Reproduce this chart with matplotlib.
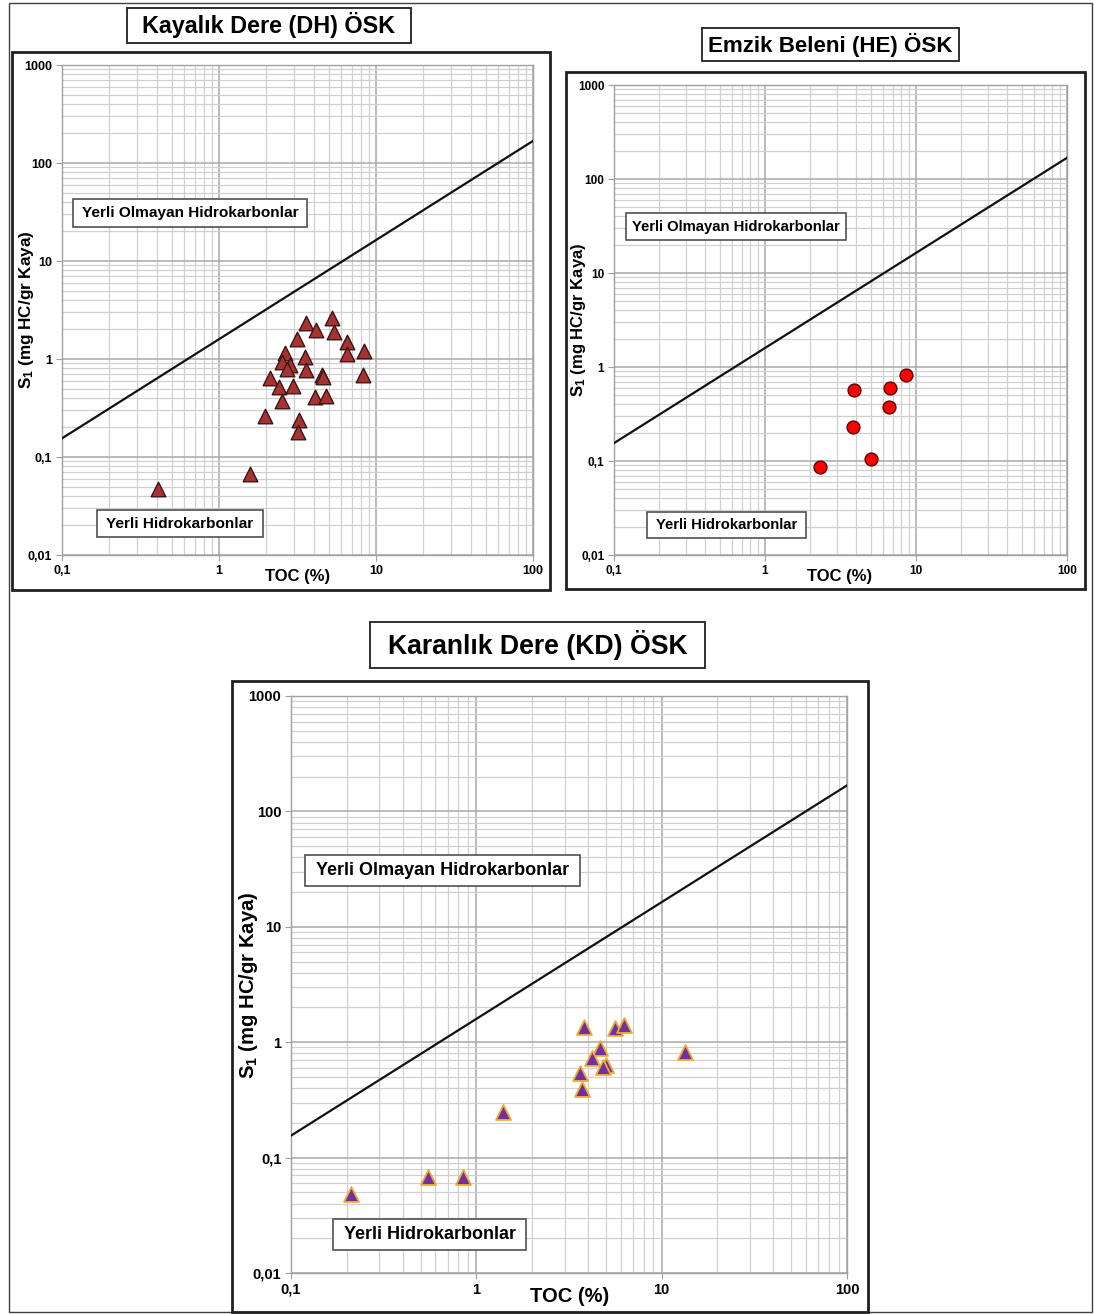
import matplotlib
matplotlib.use("Agg")
import matplotlib.pyplot as plt
from matplotlib.patches import Rectangle
from matplotlib.ticker import LogLocator, FixedLocator, FixedFormatter, NullFormatter
import numpy as np

plt.rcParams['font.family'] = ['Liberation Sans', 'DejaVu Sans']
plt.rcParams['mathtext.fontset'] = 'custom'
plt.rcParams['mathtext.rm'] = 'Liberation Sans:bold'
plt.rcParams['mathtext.it'] = 'Liberation Sans:bold'
plt.rcParams['mathtext.bf'] = 'Liberation Sans:bold'

# ---------------- data ----------------
dh_toc = [3.58, 5.22, 4.15, 5.40, 3.13, 6.54, 8.39, 6.54, 2.63, 3.53, 2.51, 2.83, 2.70, 3.58,
          4.51, 4.58, 2.11, 8.26, 2.41, 2.96, 2.51, 4.09, 4.80, 1.96, 3.23, 3.17, 0.41, 1.57]
dh_s1 = [2.33, 2.62, 1.98, 1.89, 1.60, 1.49, 1.21, 1.12, 1.15, 1.05, 0.93, 0.87, 0.79, 0.77,
         0.69, 0.66, 0.64, 0.69, 0.52, 0.53, 0.37, 0.41, 0.42, 0.26, 0.24, 0.18, 0.047, 0.067]

he_toc = [8.59, 3.87, 6.73, 6.62, 3.81, 5.06, 2.30]
he_s1 = [0.82, 0.57, 0.60, 0.38, 0.23, 0.105, 0.086]

kd_toc = [3.83, 5.61, 6.27, 13.4, 4.65, 4.23, 5.01, 4.81, 3.64, 3.73, 1.40, 0.55, 0.85, 0.21]
kd_s1 = [1.36, 1.32, 1.41, 0.83, 0.89, 0.73, 0.63, 0.61, 0.54, 0.39, 0.25, 0.068, 0.068, 0.048]

boundary_toc = [0.1, 100]
boundary_s1 = [0.155, 168]

x_ticks = [0.1, 1, 10, 100]
x_labels = ['0,1', '1', '10', '100']
y_ticks = [0.01, 0.1, 1, 10, 100, 1000]
y_labels = ['0,01', '0,1', '1', '10', '100', '1000']

titles = ['Kayalık Dere (DH) ÖSK', 'Emzik Beleni (HE) ÖSK', 'Karanlık Dere (KD) ÖSK']
lbl_non = 'Yerli Olmayan Hidrokarbonlar'
lbl_in = 'Yerli Hidrokarbonlar'

# ---------------- layout ----------------
W, H = 1094, 1314
fig = plt.figure(figsize=(W / 100, H / 100), dpi=100)
fig.patch.set_facecolor('white')


def fbox(x0, y0, x1, y1):
    return [x0 / W, 1 - y1 / H, (x1 - x0) / W, (y1 - y0) / H]


def frect(x0, y0, x1, y1, lw=1.5, ec='black', z=0):
    r = Rectangle((x0 / W, 1 - y1 / H), (x1 - x0) / W, (y1 - y0) / H,
                  transform=fig.transFigure, fill=False, lw=lw, ec=ec, zorder=z)
    fig.patches.append(r)


def ftext(x, y, s, size, **kw):
    fig.text(x / W, 1 - y / H, s, fontsize=size, fontweight='bold',
             ha='center', va='center', **kw)


def boxed(x0, y0, x1, y1, s, size, lw=1.2, ec='#505050'):
    r = Rectangle((x0 / W, 1 - y1 / H), (x1 - x0) / W, (y1 - y0) / H,
                  transform=fig.transFigure, fc='white', lw=lw, ec=ec, zorder=5)
    fig.patches.append(r)
    ftext((x0 + x1) / 2, (y0 + y1) / 2, s, size, zorder=6)


# outer frame
frect(9, 3, 1092, 1312, lw=1.0, ec='#404040')


def make_panel(axbox, panelbox, toc, s1, marker, fc, ec, ms, mlw, tick_fs):
    frect(*panelbox, lw=2.0, ec='#202020')
    ax = fig.add_axes(fbox(*axbox))
    ax.set_xscale('log')
    ax.set_yscale('log')
    ax.set_xlim(0.1, 100)
    ax.set_ylim(0.01, 1000)
    ax.xaxis.set_major_locator(FixedLocator(x_ticks))
    ax.xaxis.set_major_formatter(FixedFormatter(x_labels))
    ax.yaxis.set_major_locator(FixedLocator(y_ticks))
    ax.yaxis.set_major_formatter(FixedFormatter(y_labels))
    ax.xaxis.set_minor_locator(LogLocator(base=10, subs=np.arange(2, 10), numticks=20))
    ax.yaxis.set_minor_locator(LogLocator(base=10, subs=np.arange(2, 10), numticks=20))
    ax.xaxis.set_minor_formatter(NullFormatter())
    ax.yaxis.set_minor_formatter(NullFormatter())
    ax.grid(True, which='major', color='#a8a8a8', lw=1.1)
    ax.grid(True, which='minor', color='#d0d0d0', lw=0.9)
    ax.set_axisbelow(True)
    ax.tick_params(which='major', length=4, color='#a0a0a0', labelsize=tick_fs, pad=3)
    ax.tick_params(which='minor', length=0)
    for lab in ax.get_xticklabels() + ax.get_yticklabels():
        lab.set_fontweight('bold')
    for sp in ax.spines.values():
        sp.set_color('#a0a0a0')
        sp.set_linewidth(1.0)
    ax.plot(boundary_toc, boundary_s1, color='#111111', lw=1.6, zorder=3)
    ax.scatter(toc, s1, marker=marker, s=ms, c=fc, edgecolors=ec, linewidths=mlw, zorder=4)
    return ax


# DH panel
make_panel((62, 65, 533, 555), (12, 52, 550, 590), dh_toc, dh_s1, '^', '#a83232', '#3a1515', 110, 1.0, 9)
boxed(127, 8, 411, 43, titles[0], 16.8, lw=1.3, ec='#202020')
boxed(73, 199, 307, 227, lbl_non, 11.1)
boxed(97, 510, 263, 537, lbl_in, 11.1)
ftext(298, 576, 'TOC (%)', 12)
ftext(27, 310, r'S$_1$ (mg HC/gr Kaya)', 12.3, rotation=90)

# HE panel
make_panel((614, 85, 1067, 555), (566, 72, 1085, 589), he_toc, he_s1, 'o', '#ff0000', '#5a0000', 85, 1.0, 8.5)
boxed(702, 28, 959, 61, titles[1], 16.1, lw=1.3, ec='#202020')
boxed(626, 213, 846, 240, lbl_non, 10.7)
boxed(647, 512, 806, 538, lbl_in, 10.7)
ftext(840, 576, 'TOC (%)', 12)
ftext(578, 320, r'S$_1$ (mg HC/gr Kaya)', 12, rotation=90)

# KD panel
make_panel((291, 696, 847, 1273), (232, 681, 868, 1312), kd_toc, kd_s1, '^', '#7030a0', '#f0a830', 115, 1.3, 10.5)
boxed(370, 622, 705, 668, titles[2], 19.2, lw=1.3, ec='#202020')
boxed(305, 855, 580, 886, lbl_non, 13)
boxed(333, 1219, 526, 1250, lbl_in, 13)
ftext(570, 1296, 'TOC (%)', 14.5)
ftext(248, 985, r'S$_1$ (mg HC/gr Kaya)', 14.6, rotation=90)

fig.savefig('out.png', dpi=100, facecolor='white')
